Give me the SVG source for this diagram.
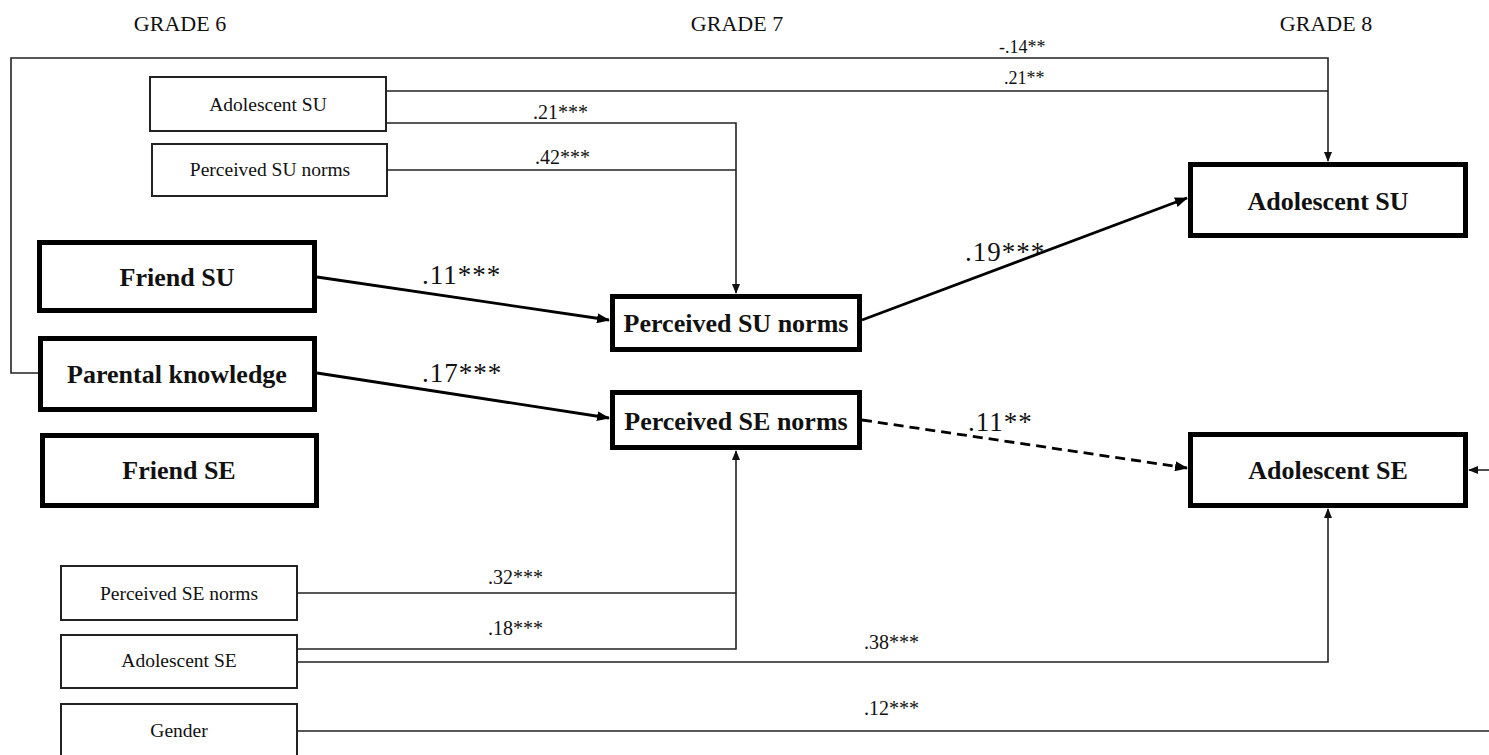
<svg xmlns="http://www.w3.org/2000/svg" width="1489" height="755" viewBox="0 0 1489 755">
<defs>
<style>
.bg{fill:#fff}
.sbox{fill:#fff;stroke:#222;stroke-width:2}
.bbox{fill:#fff;stroke:#000;stroke-width:5}
.thin{fill:none;stroke:#222;stroke-width:1.6}
.thick{fill:none;stroke:#000;stroke-width:2.8}
.dash{stroke-dasharray:10 6}
text{font-family:"Liberation Serif","Times New Roman",serif;fill:#111}
.grade{font-size:22px;text-anchor:middle}
.stxt{font-size:19.5px;text-anchor:middle}
.btxt{font-size:26px;font-weight:bold;text-anchor:middle}
.lab{font-size:20px}
.blab{font-size:27px;letter-spacing:1px}
.tlab{font-size:18px}
</style>
<marker id="as" markerWidth="10" markerHeight="8" refX="9" refY="4" orient="auto" markerUnits="userSpaceOnUse">
<path d="M0,0 L10,4 L0,8 Z" fill="#111"/>
</marker>
<marker id="ab" markerWidth="13" markerHeight="10" refX="12" refY="5" orient="auto" markerUnits="userSpaceOnUse">
<path d="M0,0 L13,5 L0,10 Z" fill="#000"/>
</marker>
</defs>
<rect class="bg" x="0" y="0" width="1489" height="755"/>

<g id="headers">
<text class="grade" x="180" y="31">GRADE 6</text>
<text class="grade" x="737" y="31">GRADE 7</text>
<text class="grade" x="1326" y="31">GRADE 8</text>
</g>

<g id="connectors">
<path class="thin" d="M38,373 H11 V58 H1328 V161" marker-end="url(#as)"/>
<path class="thin" d="M387,91 H1328"/>
<path class="thin" d="M387,123 H736 V293" marker-end="url(#as)"/>
<path class="thin" d="M388,170 H736"/>
<path class="thin" d="M298,593 H736 V451" marker-end="url(#as)"/>
<path class="thin" d="M298,649 H736 V593"/>
<path class="thin" d="M298,662 H1328 V509" marker-end="url(#as)"/>
<path class="thin" d="M298,731 H1489"/>
<path class="thin" d="M1489,470 H1469" marker-end="url(#as)"/>
<path class="thick" d="M317,277 L609,320" marker-end="url(#ab)"/>
<path class="thick" d="M317,373 L609,418" marker-end="url(#ab)"/>
<path class="thick" d="M862,320 L1187,198" marker-end="url(#ab)"/>
<path class="thick dash" d="M862,420 L1187,468" marker-end="url(#ab)"/>
</g>

<g id="labels">
<text class="tlab" x="999" y="53">-.14**</text>
<text class="tlab" x="1004" y="84">.21**</text>
<text class="lab" x="533" y="119">.21***</text>
<text class="lab" x="535" y="164">.42***</text>
<text class="blab" x="422" y="284">.11***</text>
<text class="blab" x="422" y="382">.17***</text>
<text class="blab" x="965" y="261">.19***</text>
<text class="blab" x="968" y="431">.11**</text>
<text class="lab" x="488" y="584">.32***</text>
<text class="lab" x="488" y="635">.18***</text>
<text class="lab" x="864" y="649">.38***</text>
<text class="lab" x="864" y="715">.12***</text>
</g>

<g id="n_adol_su_6">
<rect class="sbox" x="150" y="77" width="236" height="54"/>
<text class="stxt" x="268" y="111">Adolescent SU</text>
</g>
<g id="n_psun_6">
<rect class="sbox" x="152" y="144" width="235" height="52"/>
<text class="stxt" x="270" y="176">Perceived SU norms</text>
</g>
<g id="n_friend_su">
<rect class="bbox" x="39.5" y="242.5" width="275" height="68"/>
<text class="btxt" x="177" y="286">Friend SU</text>
</g>
<g id="n_parental">
<rect class="bbox" x="40.5" y="338.5" width="274" height="71"/>
<text class="btxt" x="177" y="383">Parental knowledge</text>
</g>
<g id="n_friend_se">
<rect class="bbox" x="42.5" y="435.5" width="274" height="70"/>
<text class="btxt" x="179" y="479">Friend SE</text>
</g>
<g id="n_psun_7">
<rect class="bbox" x="612.5" y="296.5" width="247" height="53"/>
<text class="btxt" x="736" y="332">Perceived SU norms</text>
</g>
<g id="n_psen_7">
<rect class="bbox" x="612.5" y="392.5" width="247" height="55"/>
<text class="btxt" x="736" y="430">Perceived SE norms</text>
</g>
<g id="n_adol_su_8">
<rect class="bbox" x="1190.5" y="164.5" width="275" height="71"/>
<text class="btxt" x="1328" y="210">Adolescent SU</text>
</g>
<g id="n_adol_se_8">
<rect class="bbox" x="1190.5" y="434.5" width="275" height="71"/>
<text class="btxt" x="1328" y="479">Adolescent SE</text>
</g>
<g id="n_psen_6">
<rect class="sbox" x="61" y="566" width="236" height="54"/>
<text class="stxt" x="179" y="600">Perceived SE norms</text>
</g>
<g id="n_adol_se_6">
<rect class="sbox" x="61" y="635" width="236" height="53"/>
<text class="stxt" x="179" y="667">Adolescent SE</text>
</g>
<g id="n_gender">
<rect class="sbox" x="61" y="704" width="236" height="60"/>
<text class="stxt" x="179" y="737">Gender</text>
</g>
</svg>
